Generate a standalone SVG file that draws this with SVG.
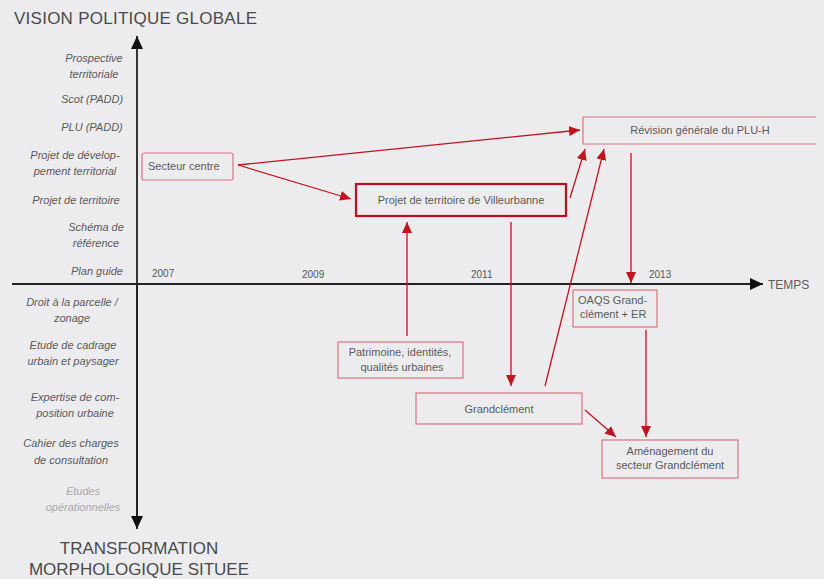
<svg xmlns="http://www.w3.org/2000/svg" width="824" height="579" viewBox="0 0 824 579">
<style>
.title{font-family:"Liberation Sans",Arial,sans-serif;font-size:17px;fill:#4a4a4a}
.lab{font-family:"Liberation Sans",Arial,sans-serif;font-size:11px;font-style:italic;fill:#5a5a5a;text-anchor:middle}
.lab2{fill:#a8a8a8}
.yr{font-family:"Liberation Sans",Arial,sans-serif;font-size:10px;fill:#555}
.bt{font-family:"Liberation Sans",Arial,sans-serif;font-size:11px;fill:#5a5a5a}
.box{fill:none;stroke:#d9757e;stroke-width:1.2}
.boxb{fill:none;stroke:#b8101c;stroke-width:2.2}
.ax{stroke:#222;stroke-width:1.8;fill:none}
.ar{stroke:#c0141e;stroke-width:1.3;fill:none;marker-end:url(#ra)}
</style>
<defs>
<marker id="ra" markerUnits="userSpaceOnUse" markerWidth="12" markerHeight="10" refX="11" refY="5" orient="auto">
<path d="M0,0 L11,5 L0,10 Z" fill="#c0141e"/>
</marker>
<marker id="ka" markerUnits="userSpaceOnUse" markerWidth="14" markerHeight="12" refX="13" refY="6" orient="auto">
<path d="M0,0 L13,6 L0,12 Z" fill="#111"/>
</marker>
</defs>
<rect width="824" height="579" fill="#ececee"/>
<g id="axes">
<line class="ax" x1="137" y1="528" x2="137" y2="36" marker-end="url(#ka)"/>
<line class="ax" x1="137" y1="284" x2="137" y2="529" marker-end="url(#ka)"/>
<line class="ax" x1="12" y1="284" x2="763" y2="284" marker-end="url(#ka)"/>
<text class="title" x="14" y="24" textLength="243">VISION POLITIQUE GLOBALE</text>
<text class="title" x="139" y="554" text-anchor="middle">TRANSFORMATION</text>
<text class="title" x="139" y="575" text-anchor="middle">MORPHOLOGIQUE SITUEE</text>
<text class="bt" x="768" y="289" style="font-size:12px">TEMPS</text>
<text class="yr" x="152" y="277">2007</text>
<text class="yr" x="302" y="278">2009</text>
<text class="yr" x="471" y="278">2011</text>
<text class="yr" x="649" y="278">2013</text>
</g>
<g id="labels">
<text class="lab" x="94" y="62">Prospective</text>
<text class="lab" x="94" y="78">territoriale</text>
<text class="lab" x="92" y="103">Scot (PADD)</text>
<text class="lab" x="92" y="131">PLU (PADD)</text>
<text class="lab" x="75" y="159">Projet de dévelop-</text>
<text class="lab" x="75" y="175">pement territorial</text>
<text class="lab" x="76" y="204">Projet de territoire</text>
<text class="lab" x="96" y="231">Schéma de</text>
<text class="lab" x="96" y="247">référence</text>
<text class="lab" x="97" y="275">Plan guide</text>
<text class="lab" x="72" y="306">Droit à la parcelle /</text>
<text class="lab" x="72" y="322">zonage</text>
<text class="lab" x="73" y="349">Etude de cadrage</text>
<text class="lab" x="73" y="365">urbain et paysager</text>
<text class="lab" x="75" y="401">Expertise de com-</text>
<text class="lab" x="75" y="417">position urbaine</text>
<text class="lab" x="71" y="447">Cahier des charges</text>
<text class="lab" x="71" y="464">de consultation</text>
<text class="lab lab2" x="83" y="495">Etudes</text>
<text class="lab lab2" x="83" y="511">opérationnelles</text>
</g>
<g id="connectors">
<line class="ar" x1="238" y1="165" x2="580" y2="130"/>
<line class="ar" x1="238" y1="165" x2="351" y2="199"/>
<line class="ar" x1="407" y1="336" x2="407" y2="222"/>
<line class="ar" x1="511" y1="222" x2="511" y2="386"/>
<line class="ar" x1="570" y1="198" x2="585" y2="149"/>
<line class="ar" x1="545" y1="386" x2="604" y2="149"/>
<line class="ar" x1="631" y1="153" x2="631" y2="283"/>
<line class="ar" x1="646" y1="330" x2="646" y2="437"/>
<line class="ar" x1="585" y1="410" x2="616" y2="437"/>
</g>
<g id="n-secteur">
<rect class="box" x="142" y="153" width="91" height="27" rx="2"/>
<text class="bt" x="148" y="170">Secteur centre</text>
</g>
<g id="n-projet">
<rect class="boxb" x="356" y="184" width="210" height="32"/>
<text class="bt" x="461" y="204" text-anchor="middle">Projet de territoire de Villeurbanne</text>
</g>
<g id="n-revision">
<path class="box" d="M816,117 H583 V144 H816"/>
<text class="bt" x="700" y="134" text-anchor="middle">Révision générale du PLU-H</text>
</g>
<g id="n-oaqs">
<rect class="box" x="573" y="290" width="84" height="37"/>
<text class="bt" x="578" y="304">OAQS Grand-</text>
<text class="bt" x="580" y="318">clément + ER</text>
</g>
<g id="n-patrimoine">
<rect class="box" x="338" y="342" width="125" height="36"/>
<text class="bt" x="400" y="356" text-anchor="middle">Patrimoine, identités,</text>
<text class="bt" x="402" y="371" text-anchor="middle">qualités urbaines</text>
</g>
<g id="n-grandclement">
<rect class="box" x="416" y="393" width="166" height="31"/>
<text class="bt" x="499" y="413" text-anchor="middle">Grandclément</text>
</g>
<g id="n-amenagement">
<rect class="box" x="602" y="440" width="136" height="38"/>
<text class="bt" x="670" y="455" text-anchor="middle">Aménagement du</text>
<text class="bt" x="670" y="469" text-anchor="middle">secteur Grandclément</text>
</g>
</svg>
